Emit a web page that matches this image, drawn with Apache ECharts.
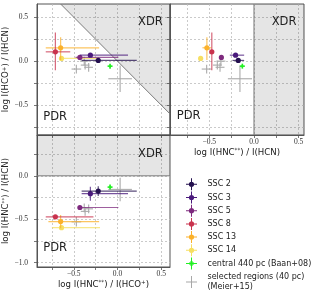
<!DOCTYPE html>
<html><head><meta charset="utf-8">
<script src="https://cdn.jsdelivr.net/npm/echarts@6/dist/echarts.min.js"></script>
<style>html,body{margin:0;padding:0;background:#fff}#c{width:312px;height:302px}</style>
</head><body><div id="c"></div>
<script>
// ---- data ----
const names = ['SSC 2','SSC 3','SSC 5','SSC 8','SSC 13','SSC 14','central 440 pc (Baan+08)'];
const colors = ['#24104f','#4a1a7c','#7e2a7e','#c9334e','#fbb12b','#f6df62','#22f022'];
// log I(HNC**)/I(HCO+), log I(HCO+)/I(HCN), log I(HNC**)/I(HCN)
const hncHco = [-0.22, -0.31, -0.43, -0.71, -0.65, -0.64, -0.085];
const hcoHcn = [0.008, 0.068, 0.042, 0.106, 0.152, 0.031, -0.057];
const hncHcn = [-0.176, -0.206, -0.365, -0.472, -0.527, -0.597, -0.13];
// error bars [minus, plus]
const errTL_hncHco = [[0.19,0.44],[0.12,0.43],[0.05,0.44],[0.11,0.17],[0.17,0.44],[0.01,0.43],[0.015,0.015]];
const err_hcoHcn   = [[0.012,0.012],[0.012,0.012],[0.012,0.012],[0.21,0.22],[0.14,0.12],[0.01,0.01],[0.02,0.02]];
const errTR_hncHcn = [[0.064,0.066],[0.064,0.096],[0.02,0.02],[0.012,0.012],[0.05,0.05],[0.01,0.01],[0.015,0.015]];
const errBL_hncHco = [[0.19,0.44],[0.10,0.43],[0.015,0.44],[0.11,0.435],[0.14,0.44],[0.11,0.44],[0.015,0.015]];
const errBL_hncHcn = [[0.055,0.055],[0.08,0.08],[0.02,0.02],[0.02,0.02],[0.077,0.077],[0.01,0.01],[0.02,0.02]];
// selected regions (Meier+15)
const selName = 'selected regions (40 pc)\n(Meier+15)';
const selHncHco = [-0.47, -0.38, -0.37, -0.33, 0.03];
const selHcoHcn = [-0.09, 0.0, -0.045, -0.07, -0.2];
const selHncHcn = [-0.53, -0.37, -0.41, -0.38, -0.157];
const selErrHncHco = [0.055, 0.05, 0.05, 0.05, 0.135];
const selErrHcoHcn = [0.05, 0.05, 0.05, 0.05, 0.15];
const selErrHncHcn = [0.055, 0.05, 0.05, 0.05, 0.135];
// XDR regions (HNC/HCN > 0)
const xdrTL = [[-0.65,0.65],[0.6,-0.6],[0.6,0.65]];
const xdrTR = [[0,-0.84],[0.56,-0.84],[0.56,0.65],[0,0.65]];
const xdrBL = [[-0.92,0],[0.6,0],[0.6,0.47],[-0.92,0.47]];
const xdrLineTL = [[-0.65,0.65],[0.6,-0.6]];
const xdrLineTR = [[0,-0.84],[0,0.65]];
const xdrLineBL = [[-0.92,0],[0.6,0]];
// ticks
const ticksA = [-0.75,-0.5,-0.25,0,0.25,0.5];
const labelsA = [-0.5,0,0.5];
const ticksB = [-1,-0.75,-0.5,-0.25,0,0.25];
const labelsB = [-1,-0.5,0];

// ---- styles ----
const sans = 'DejaVu Sans', serif = 'Liberation Serif';
const fmt = v => (v < 0 ? '\u2212' : '') + Math.abs(v).toFixed(1);
const rich = {
  a: {fontSize: 8.6, fontFamily: sans, color: '#222'},
  s: {fontSize: 5.6, fontFamily: sans, color: '#222', verticalAlign: 'top', padding: [0,0,3,0]}
};
const titleStyle = {fontSize: 8.6, fontFamily: sans, color: '#222', rich};
const tHncHco = '{a|log I(HNC}{s|**}{a|) / I(HCO}{s|+}{a|)}';
const tHcoHcn = '{a|log I(HCO}{s|+}{a|) / I(HCN)}';
const tHncHcn = '{a|log I(HNC}{s|**}{a|) / I(HCN)}';

function mkAxis(gi, min, max, ticks, labels, name, isY) {
  return {
    type: 'value', gridIndex: gi, min, max,
    name: name || '', nameLocation: 'middle', nameGap: isY ? 22 : 13,
    nameTextStyle: titleStyle,
    axisLine: {show: true, onZero: false, lineStyle: {color: '#555', width: 1}},
    axisTick: {show: true, inside: false, length: 3, customValues: ticks, lineStyle: {color: '#555', width: 0.8}},
    axisLabel: {show: !!labels, customValues: labels || ticks, margin: isY ? 9 : 3, formatter: fmt,
                fontFamily: serif, fontSize: 7.5, color: '#333'},
    splitLine: {show: true, lineStyle: {color: '#bdbdbd', type: [2,2], width: 0.8}}
  };
}

function errSeries(name, gi, color, pts, marker) {
  return {
    type: 'custom', name, xAxisIndex: gi, yAxisIndex: gi, clip: true,
    itemStyle: {color}, encode: {x: 0, y: 1},
    data: pts,
    renderItem: (params, api) => {
      const x = api.value(0), y = api.value(1);
      const c = api.coord([x, y]);
      const l = api.coord([x - api.value(2), y]);
      const r = api.coord([x + api.value(3), y]);
      const b = api.coord([x, y - api.value(4)]);
      const t = api.coord([x, y + api.value(5)]);
      const st = {stroke: color, lineWidth: 1.2, opacity: marker === 'none' ? 0.9 : 0.75};
      const ch = [
        {type: 'line', shape: {x1: l[0], y1: l[1], x2: r[0], y2: r[1]}, style: st},
        {type: 'line', shape: {x1: b[0], y1: b[1], x2: t[0], y2: t[1]}, style: st}
      ];
      if (marker === 'circle') ch.push({type: 'circle', shape: {cx: c[0], cy: c[1], r: 2.6}, style: {fill: color}});
      if (marker === 'plus') {
        ch.push({type: 'line', shape: {x1: c[0]-2.5, y1: c[1], x2: c[0]+2.5, y2: c[1]}, style: {stroke: color, lineWidth: 1.6}});
        ch.push({type: 'line', shape: {x1: c[0], y1: c[1]-2.5, x2: c[0], y2: c[1]+2.5}, style: {stroke: color, lineWidth: 1.6}});
      }
      return {type: 'group', children: ch};
    }
  };
}

function xdrSeries(gi, poly, line) {
  return [{
    type: 'custom', xAxisIndex: gi, yAxisIndex: gi, silent: true, z: 1, encode: {x: 0, y: 1},
    data: poly,
    renderItem: (params, api) => {
      if (params.dataIndex !== 0) return null;
      return {type: 'polygon', shape: {points: poly.map(p => api.coord(p))}, style: {fill: 'rgba(0,0,0,0.1)'}};
    }
  }, {
    type: 'line', xAxisIndex: gi, yAxisIndex: gi, silent: true, z: 1, data: line, symbol: 'none',
    lineStyle: {color: '#7a7a7a', width: 1}
  }];
}

const series = [];
series.push(...xdrSeries(0, xdrTL, xdrLineTL));
series.push(...xdrSeries(1, xdrTR, xdrLineTR));
series.push(...xdrSeries(2, xdrBL, xdrLineBL));

// selected regions
const gray = '#a8a8a8';
series.push(errSeries(selName, 0, gray, selHncHco.map((v,i) => [v, selHcoHcn[i], selErrHncHco[i], selErrHncHco[i], selErrHcoHcn[i], selErrHcoHcn[i]]), 'none'));
series.push(errSeries(selName, 1, gray, selHncHcn.map((v,i) => [v, selHcoHcn[i], selErrHncHcn[i], selErrHncHcn[i], selErrHcoHcn[i], selErrHcoHcn[i]]), 'none'));
series.push(errSeries(selName, 2, gray, selHncHco.map((v,i) => [selHncHco[i], selHncHcn[i], selErrHncHco[i], selErrHncHco[i], selErrHncHcn[i], selErrHncHcn[i]]), 'none'));

for (let i = names.length - 1; i >= 0; i--) {
  const mk = i === 6 ? 'plus' : 'circle';
  series.push(errSeries(names[i], 0, colors[i], [[hncHco[i], hcoHcn[i], errTL_hncHco[i][0], errTL_hncHco[i][1], err_hcoHcn[i][0], err_hcoHcn[i][1]]], mk));
  series.push(errSeries(names[i], 1, colors[i], [[hncHcn[i], hcoHcn[i], errTR_hncHcn[i][0], errTR_hncHcn[i][1], err_hcoHcn[i][0], err_hcoHcn[i][1]]], mk));
  series.push(errSeries(names[i], 2, colors[i], [[hncHco[i], hncHcn[i], errBL_hncHco[i][0], errBL_hncHco[i][1], errBL_hncHcn[i][0], errBL_hncHcn[i][1]]], mk));
}

const iconDot = 'path://M0,5.5h11v1h-11z M5,0h1v12h-1z M5.5,3.4a2.6,2.6 0 1 1 0,5.2a2.6,2.6 0 1 1 0,-5.2z';
const iconPlus = 'path://M0,5.5h11v1h-11z M5,0h1v12h-1z M3,5h5v2h-5z M4.5,3.5h2v5h-2z';
const iconCross = 'path://M0,5.5h11v1h-11z M5,0h1v12h-1z';
const legendText = {fontSize: 8, fontFamily: sans, color: '#222', lineHeight: 10};

const option = {
  animation: false,
  backgroundColor: '#fff',
  grid: [
    {left: 37, top: 4, width: 133, height: 131, show: true, borderColor: '#555', borderWidth: 1},
    {left: 170, top: 4, width: 134, height: 131, show: true, borderColor: '#555', borderWidth: 1},
    {left: 37, top: 135, width: 133, height: 132, show: true, borderColor: '#555', borderWidth: 1}
  ],
  xAxis: [
    mkAxis(0, -0.92, 0.6, ticksA, null, '', false),
    mkAxis(1, -0.94, 0.56, ticksA, labelsA, tHncHcn, false),
    mkAxis(2, -0.92, 0.6, ticksA, labelsA, tHncHco, false)
  ],
  yAxis: [
    mkAxis(0, -0.84, 0.65, ticksA, labelsA, tHcoHcn, true),
    mkAxis(1, -0.84, 0.65, ticksA, null, '', true),
    mkAxis(2, -1.05, 0.47, ticksB, labelsB, tHncHcn, true)
  ],
  legend: [{
    orient: 'vertical', left: 181, top: 173.3, itemWidth: 22, itemHeight: 12, itemGap: 1.2,
    selectedMode: false, textStyle: legendText,
    data: names.map((n, i) => ({name: n, icon: i === 6 ? iconPlus : iconDot, itemStyle: {color: colors[i], opacity: 1}}))
  }, {
    orient: 'vertical', left: 181, top: 267, itemWidth: 22, itemHeight: 12,
    selectedMode: false, textStyle: legendText,
    data: [{name: selName, icon: iconCross, itemStyle: {color: gray}}]
  }],
  graphic: [
    ['XDR', 138, 21.7], ['XDR', 271.7, 21.7], ['PDR', 43.3, 116.7], ['PDR', 176.7, 116],
    ['XDR', 138, 154], ['PDR', 43.3, 248.3]
  ].map(([t, x, y]) => ({type: 'text', x, y, z: 100, silent: true,
      style: {text: t, fontSize: 11.5, fontFamily: sans, fill: '#222', verticalAlign: 'middle'}})),
  series
};
const chart = echarts.init(document.getElementById('c'), null, {renderer: 'canvas'});
chart.setOption(option);
</script></body></html>
